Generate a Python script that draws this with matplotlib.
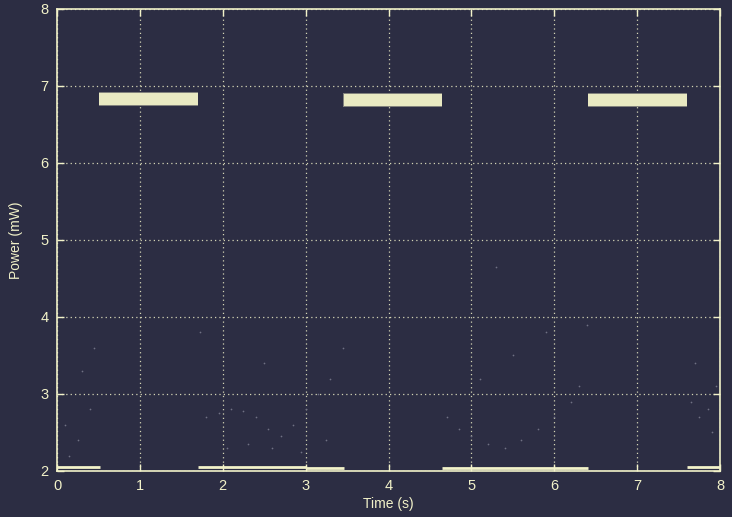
import matplotlib
matplotlib.use("Agg")
import matplotlib.pyplot as plt

# Power trace: high-power plateaus and low-power idle stretches
high_start = [0.51, 3.46, 6.41]
high_end = [1.70, 4.64, 7.60]
high_level = [6.83, 6.82, 6.82]
high_spread = [0.085, 0.08, 0.08]

low_start = [0.00, 1.70, 3.00, 4.64, 7.60]
low_end = [0.52, 3.00, 3.46, 6.41, 8.00]
low_level = [2.055, 2.055, 2.045, 2.045, 2.055]

# Sparse transition samples between the two levels
sparse_t = [0.10, 0.25, 0.40, 0.30, 0.15, 0.45, 1.80, 1.95, 2.10, 2.25, 2.40, 2.55,
            2.70, 2.85, 3.00, 3.15, 3.30, 2.05, 2.30, 2.60, 2.95, 3.25, 4.70, 4.85,
            5.00, 5.20, 5.40, 5.60, 5.80, 6.00, 6.20, 5.10, 5.50, 5.90, 6.30, 7.65,
            7.75, 7.85, 7.95, 7.70, 7.90, 1.72, 3.45, 6.40, 2.50, 5.30]
sparse_p = [2.60, 2.40, 2.80, 3.30, 2.20, 3.60, 2.70, 2.75, 2.80, 2.78, 2.70, 2.55,
            2.45, 2.60, 2.80, 3.00, 3.20, 2.30, 2.35, 2.30, 2.25, 2.40, 2.70, 2.55,
            2.45, 2.35, 2.30, 2.40, 2.55, 2.70, 2.90, 3.20, 3.50, 3.80, 3.10, 2.90,
            2.70, 2.80, 3.10, 3.40, 2.50, 3.80, 3.60, 3.90, 3.40, 4.65]

x_ticks = [0, 1, 2, 3, 4, 5, 6, 7, 8]
y_ticks = [2, 3, 4, 5, 6, 7, 8]

bg = "#2c2d43"
fg = "#f2f2c9"
band = "#e9e9c2"

fig = plt.figure(figsize=(7.32, 5.17), dpi=100, facecolor=bg)
ax = fig.add_axes([0.0779, 0.089, 0.9057, 0.8936], facecolor=bg)
plt.rcParams["font.family"] = ["Liberation Sans", "DejaVu Sans"]

ax.scatter(sparse_t, sparse_p, s=1.5, color="#707184", linewidths=0, zorder=2)

for s, e, lv in zip(low_start, low_end, low_level):
    ax.plot([s, e], [lv, lv], color=fg, lw=2.0, solid_capstyle="butt", zorder=3)

for s, e, lv, sp in zip(high_start, high_end, high_level, high_spread):
    # soft fringe, then solid core
    ax.fill_between([s - 0.005, e + 0.005], lv - sp * 1.12, lv + sp * 1.12,
                    color=band, alpha=0.45, linewidth=0, zorder=3)
    ax.fill_between([s, e], lv - sp * 0.92, lv + sp * 0.92,
                    color=band, linewidth=0, zorder=3)

ax.set_xlim(0, 8)
ax.set_ylim(2, 8)
ax.set_xticks(x_ticks)
ax.set_yticks(y_ticks)
ax.grid(True, color=fg, linestyle=(0, (1, 2.5)), linewidth=0.9, alpha=0.85)
ax.set_axisbelow(True)

for sp in ax.spines.values():
    sp.set_color(fg)
    sp.set_linewidth(1.2)

ax.tick_params(axis="both", direction="in", length=5, width=1, color=fg,
               labelcolor=fg, labelsize=10.5, top=True, right=True, pad=6)
for lbl in ax.get_xticklabels() + ax.get_yticklabels():
    lbl.set_family(["Liberation Sans", "DejaVu Sans"])

ax.set_xlabel("Time (s)", color=fg, fontsize=10, labelpad=3,
              family=["Liberation Sans", "DejaVu Sans"])
ax.set_ylabel("Power (mW)", color=fg, fontsize=10, labelpad=13,
              family=["Liberation Sans", "DejaVu Sans"])

fig.savefig("out.png", dpi=100, facecolor=bg)
